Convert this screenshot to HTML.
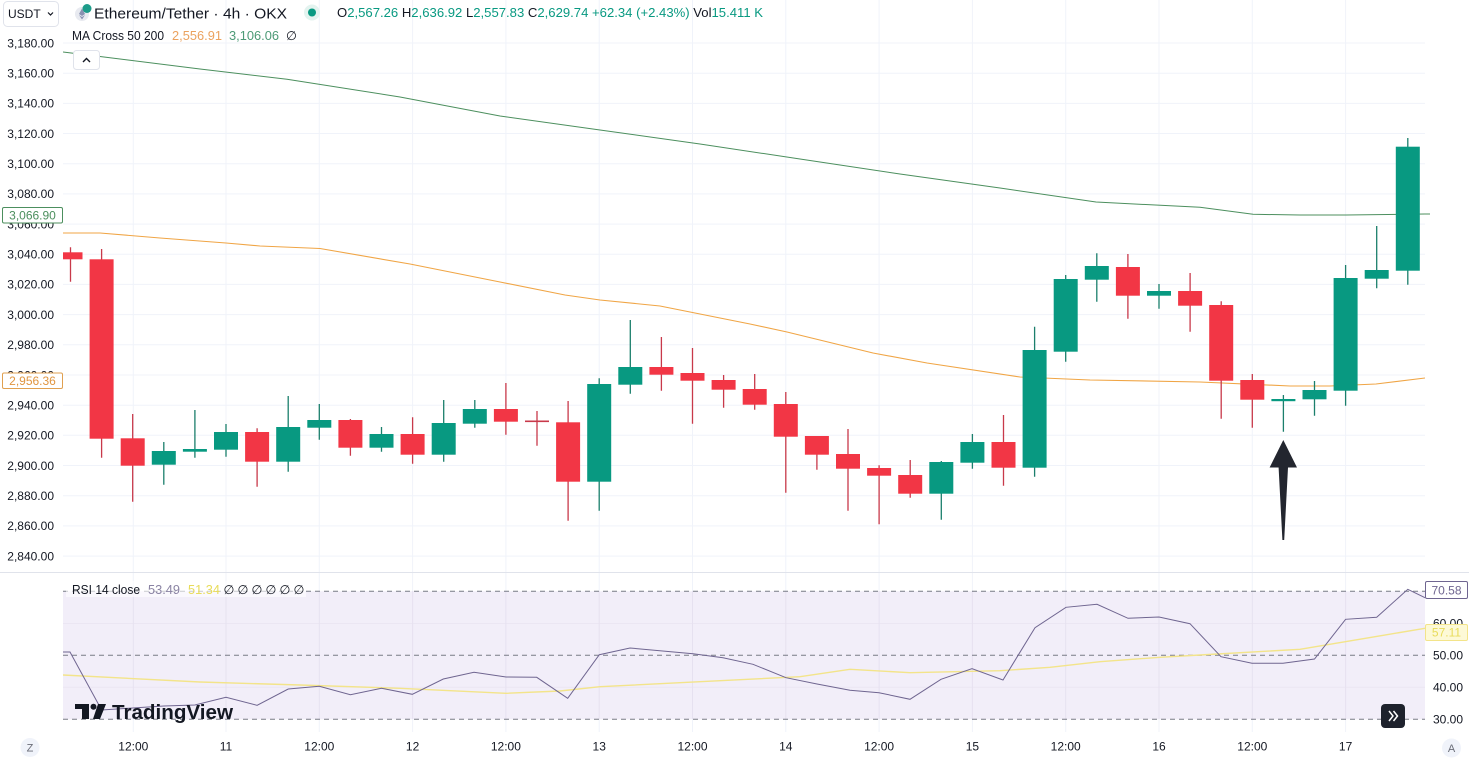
<!DOCTYPE html>
<html><head><meta charset="utf-8">
<style>
html,body{margin:0;padding:0;background:#fff;}
svg{display:block;font-family:"Liberation Sans",sans-serif;}
</style></head>
<body>
<svg width="1469" height="760" viewBox="0 0 1469 760" xmlns="http://www.w3.org/2000/svg">
<defs>
<clipPath id="main"><rect x="63" y="28" width="1362" height="544"/></clipPath>
<clipPath id="rsi"><rect x="63" y="573" width="1362" height="159"/></clipPath>
</defs>
<rect width="1469" height="760" fill="#fff"/>

<!-- vertical grid -->
<g stroke="#f0f3fa" stroke-width="1">
<path d="M133.3 0V732M226 0V732M319.3 0V732M412.6 0V732M505.9 0V732M599.2 0V732M692.5 0V732M785.8 0V732M879.1 0V732M972.4 0V732M1065.7 0V732M1159 0V732M1252.3 0V732M1345.6 0V732"/>
<path d="M63 43H1425M63 73.2H1425M63 103.4H1425M63 133.5H1425M63 163.7H1425M63 193.9H1425M63 224.1H1425M63 254.3H1425M63 284.4H1425M63 314.6H1425M63 344.8H1425M63 375H1425M63 405.2H1425M63 435.3H1425M63 465.5H1425M63 495.7H1425M63 525.9H1425M63 556.1H1425"/>
</g>

<line x1="0" y1="572.5" x2="1469" y2="572.5" stroke="#e0e3eb" stroke-width="1"/>

<!-- MA lines -->
<g clip-path="url(#main)" fill="none">
<path d="M63 52 L100 56.5 L200 69 L287 79.3 L400 97 L500 116 L600 130 L700 144 L800 159 L900 174 L1000 188 L1096 202 L1200 207.3 L1253 214.3 L1300 215 L1346 215 L1425 214" stroke="#4c8f5e" stroke-width="1"/>
<path d="M63 233 L100 233 L160 238 L226 243 L260 246 L320 248.5 L410 264 L500 282 L565 295 L600 300 L660 306 L750 324 L787 332 L873 353 L927 363 L1020 377 L1090 380 L1200 382 L1290 386 L1330 386 L1376 384 L1425 378" stroke="#f0a545" stroke-width="1.1"/>
</g>

<!-- candles -->
<g clip-path="url(#main)">
<path fill="none" stroke="#c8394a" stroke-width="1.3" d="M70.5 247.3V281.7M101.6 249V457.7M132.7 414V501.7M257.1 428.3V486.7M350.4 419V455.7M412.6 417.3V463.7M505.9 383V434.7M537 411V445.7M568.1 401V520.7M661.4 337V390.7M692.5 348V423.7M723.6 375V407.7M754.7 374V409.7M785.8 392V492.7M816.9 436V469.7M848 429V510.7M879.1 465.3V524.3M910.2 460V497.7M1003.5 415V485.7M1127.9 254V318.7M1190.1 273V331.7M1221.2 301.3V418.7M1252.3 374V427.7"/>
<g fill="#f23645">
<rect x="58.5" y="252.3" width="24" height="7"/>
<rect x="89.6" y="259.3" width="24" height="179.4"/>
<rect x="120.7" y="438.3" width="24" height="27.4"/>
<rect x="245.1" y="432" width="24" height="29.7"/>
<rect x="338.4" y="420" width="24" height="27.7"/>
<rect x="400.6" y="434" width="24" height="20.7"/>
<rect x="493.9" y="409" width="24" height="12.7"/>
<rect x="525" y="420.5" width="24" height="1.6" fill="#c8394a"/>
<rect x="556.1" y="422.3" width="24" height="59.4"/>
<rect x="649.4" y="367" width="24" height="7.7"/>
<rect x="680.5" y="373" width="24" height="7.7"/>
<rect x="711.6" y="380" width="24" height="9.7"/>
<rect x="742.7" y="389" width="24" height="15.7"/>
<rect x="773.8" y="404" width="24" height="32.7"/>
<rect x="804.9" y="436" width="24" height="18.7"/>
<rect x="836" y="454" width="24" height="14.7"/>
<rect x="867.1" y="468" width="24" height="7.7"/>
<rect x="898.2" y="475" width="24" height="18.7"/>
<rect x="991.5" y="442" width="24" height="25.7"/>
<rect x="1115.9" y="267" width="24" height="28.7"/>
<rect x="1178.1" y="291" width="24" height="14.7"/>
<rect x="1209.2" y="305" width="24" height="75.7"/>
<rect x="1240.3" y="380" width="24" height="19.7"/>
</g>
<path fill="none" stroke="#1b7f6c" stroke-width="1.3" d="M163.8 442V484.7M194.9 410V457.7M226 424V456.7M288.2 396V471.7M319.3 404V439.7M381.5 427V451.7M443.7 400V461.7M474.8 400V427.7M599.2 378.3V510.7M630.3 320V393.7M941.3 461V519.7M972.4 434V468.7M1034.6 326.7V476.7M1065.7 275V361.7M1096.8 253.3V301.7M1159 284V308.7M1283.4 395V431.7M1314.5 381V415.7M1345.6 265V405.7M1376.7 226V288.3M1407.8 138V284.7"/>
<g fill="#089981">
<rect x="151.8" y="451" width="24" height="13.7"/>
<rect x="182.9" y="449" width="24" height="2.7"/>
<rect x="214" y="432" width="24" height="17.7"/>
<rect x="276.2" y="427" width="24" height="34.7"/>
<rect x="307.3" y="420" width="24" height="7.7"/>
<rect x="369.5" y="434" width="24" height="13.7"/>
<rect x="431.7" y="423" width="24" height="31.7"/>
<rect x="462.8" y="409" width="24" height="14.7"/>
<rect x="587.2" y="384" width="24" height="97.7"/>
<rect x="618.3" y="367" width="24" height="17.7"/>
<rect x="929.3" y="462" width="24" height="31.7"/>
<rect x="960.4" y="442" width="24" height="20.7"/>
<rect x="1022.6" y="350" width="24" height="117.7"/>
<rect x="1053.7" y="279" width="24" height="72.7"/>
<rect x="1084.8" y="266" width="24" height="13.7"/>
<rect x="1147" y="291" width="24" height="4.7"/>
<rect x="1271.4" y="399" width="24" height="2.2"/>
<rect x="1302.5" y="390" width="24" height="9.3"/>
<rect x="1333.6" y="278" width="24" height="112.7"/>
<rect x="1364.7" y="270" width="24" height="8.7"/>
<rect x="1395.8" y="146.7" width="24" height="124"/>
</g>
</g>
<line x1="1425" y1="214" x2="1430" y2="214" stroke="#4c8f5e" stroke-width="1"/>

<!-- arrow -->
<polygon points="1283.3,440 1297,467.5 1288,467.5 1284.2,540 1282.4,540 1278.6,467.5 1269.6,467.5" fill="#23262f"/>

<!-- price axis labels -->
<g font-size="12" fill="#131722" text-anchor="end">
<text x="54" y="47.3">3,180.00</text>
<text x="54" y="77.5">3,160.00</text>
<text x="54" y="107.7">3,140.00</text>
<text x="54" y="137.8">3,120.00</text>
<text x="54" y="168">3,100.00</text>
<text x="54" y="198.2">3,080.00</text>
<text x="54" y="228.4">3,060.00</text>
<text x="54" y="258.6">3,040.00</text>
<text x="54" y="288.7">3,020.00</text>
<text x="54" y="318.9">3,000.00</text>
<text x="54" y="349.1">2,980.00</text>
<text x="54" y="379.3">2,960.00</text>
<text x="54" y="409.5">2,940.00</text>
<text x="54" y="439.6">2,920.00</text>
<text x="54" y="469.8">2,900.00</text>
<text x="54" y="500">2,880.00</text>
<text x="54" y="530.2">2,860.00</text>
<text x="54" y="560.4">2,840.00</text>
</g>
<rect x="2.5" y="207.5" width="60" height="15.5" rx="1.5" fill="#fff" stroke="#4c8f5e" stroke-width="1"/>
<text x="32.5" y="219.5" font-size="12" fill="#4c8f5e" text-anchor="middle">3,066.90</text>
<rect x="2.5" y="373" width="60" height="15.5" rx="1.5" fill="#fff" stroke="#e0a050" stroke-width="1"/>
<text x="32.5" y="385" font-size="12" fill="#e09540" text-anchor="middle">2,956.36</text>

<!-- header -->
<rect x="3.5" y="1.5" width="55" height="25" rx="4" fill="#fff" stroke="#e0e3eb"/>
<text x="8" y="18" font-size="12" fill="#131722">USDT</text>
<path d="M48 12.5 L50.5 15 L53 12.5" fill="none" stroke="#131722" stroke-width="1.2"/>
<circle cx="82" cy="14" r="7" fill="#e8eaf0"/>
<path d="M82 8.5 L85 14 L82 16 L79 14 Z M79 15 L82 19.5 L85 15 L82 17 Z" fill="#8a92b2"/>
<circle cx="87" cy="8.5" r="4.5" fill="#1d9c8a"/>
<text x="94" y="18.5" font-size="15" fill="#131722" textLength="193" lengthAdjust="spacingAndGlyphs">Ethereum/Tether · 4h · OKX</text>
<circle cx="312" cy="12.5" r="8" fill="#e3f3ef"/>
<circle cx="312" cy="12.5" r="4" fill="#089981"/>
<text x="337" y="17" font-size="13" fill="#089981" textLength="426" lengthAdjust="spacingAndGlyphs"><tspan fill="#131722">O</tspan>2,567.26 <tspan fill="#131722">H</tspan>2,636.92 <tspan fill="#131722">L</tspan>2,557.83 <tspan fill="#131722">C</tspan>2,629.74 +62.34 (+2.43%) <tspan fill="#131722">Vol</tspan>15.411 K</text>

<text x="72" y="40" font-size="12.5" fill="#131722" textLength="92" lengthAdjust="spacingAndGlyphs">MA Cross 50 200</text>
<text x="172" y="40" font-size="12.5" fill="#eba25e" textLength="50" lengthAdjust="spacingAndGlyphs">2,556.91</text>
<text x="229" y="40" font-size="12.5" fill="#4c9a76" textLength="50" lengthAdjust="spacingAndGlyphs">3,106.06</text>
<text x="286" y="40" font-size="12.5" fill="#131722">∅</text>
<rect x="73.5" y="50.5" width="26" height="19" rx="3" fill="#fff" stroke="#e0e3eb"/>
<path d="M83 62 L86.5 58.5 L90 62" fill="none" stroke="#131722" stroke-width="1.4"/>

<!-- RSI pane -->
<rect x="63" y="591.3" width="1362" height="128" fill="#f2eef9"/>
<g stroke="#ebe6f3" stroke-width="1"><path d="M63 623.5H1425M63 687.3H1425"/></g>
<g stroke="#e6e1f0" stroke-width="1"><path d="M133.3 591V719M226 591V719M319.3 591V719M412.6 591V719M505.9 591V719M599.2 591V719M692.5 591V719M785.8 591V719M879.1 591V719M972.4 591V719M1065.7 591V719M1159 591V719M1252.3 591V719M1345.6 591V719"/></g>
<g stroke="#787b86" stroke-width="1" stroke-dasharray="5,4">
<line x1="63" y1="591.3" x2="1425" y2="591.3"/>
<line x1="63" y1="655.3" x2="1425" y2="655.3"/>
<line x1="63" y1="719.3" x2="1425" y2="719.3"/>
</g>
<g clip-path="url(#rsi)" fill="none">
<path d="M63 675 L200 682 L300 685 L400 688.3 L506 693.3 L560 691 L600 686.7 L700 681.7 L800 676.7 L850 669.3 L910 672.7 L1000 670.7 L1050 667.3 L1100 661.7 L1160 657.3 L1200 655 L1300 649.3 L1425 628.3" stroke="#f3e48a" stroke-width="1.4"/>
<path d="M63 652 L70 652 L101.6 710 L132.7 708 L163.8 706 L194.9 705 L226 697.3 L257.1 705.3 L288.2 689 L319.3 686.3 L350.4 694.7 L381.5 688.3 L412.3 694.3 L443.3 679 L474 672.3 L506 677 L536.7 677.3 L567.7 698.3 L599.3 654.7 L630 648 L693 653.7 L723 657.7 L753 664.3 L786 677.7 L817 684 L850 690.3 L879 692.7 L910 699.3 L941 679.3 L972 668.7 L1003 680 L1035 627.7 L1066 607.3 L1097 604.3 L1128 618.3 L1159 617 L1190 623.7 L1221 656.7 L1252 663.3 L1283 663.3 L1314.5 659 L1345.6 619.3 L1376.7 617.3 L1407.8 589.3 L1425 597.7" stroke="#6f6590" stroke-width="1"/>
</g>

<!-- RSI legend -->
<rect x="66" y="581" width="240" height="16" fill="#fff" fill-opacity="0.6"/>
<text x="72" y="594" font-size="12.5" fill="#131722" textLength="68" lengthAdjust="spacingAndGlyphs">RSI 14 close</text>
<text x="148" y="594" font-size="12.5" fill="#8a83a3" textLength="32" lengthAdjust="spacingAndGlyphs">53.49</text>
<text x="188" y="594" font-size="12.5" fill="#e8dc5a" textLength="32" lengthAdjust="spacingAndGlyphs">51.34</text>
<g font-size="12.5" fill="#131722" text-anchor="middle">
<text x="229" y="594">∅</text>
<text x="243" y="594">∅</text>
<text x="257" y="594">∅</text>
<text x="271" y="594">∅</text>
<text x="285" y="594">∅</text>
<text x="299" y="594">∅</text>
</g>

<!-- RSI axis -->
<g font-size="12" fill="#131722" text-anchor="end">
<text x="1463" y="627.5">60.00</text>
<text x="1463" y="659.5">50.00</text>
<text x="1463" y="691.5">40.00</text>
<text x="1463" y="723.5">30.00</text>
</g>
<rect x="1425.5" y="581.5" width="42" height="17" rx="1.5" fill="#fff" stroke="#6f6590"/>
<text x="1446.5" y="594.5" font-size="12" fill="#6f6590" text-anchor="middle">70.58</text>
<rect x="1425.5" y="624.5" width="42" height="16" rx="1.5" fill="#fdf9d6" stroke="#f3e48a"/>
<text x="1446.5" y="636.5" font-size="12" fill="#e8dc5a" text-anchor="middle">57.11</text>

<!-- TradingView logo -->
<g fill="#131722">
<rect x="75" y="704" width="14" height="5"/>
<rect x="82" y="704" width="7" height="15"/>
<circle cx="93.5" cy="706.8" r="3"/>
<polygon points="98,704 106,704 100,719 93,719"/>
</g>
<text x="112" y="719" font-size="20" font-weight="bold" fill="#131722" textLength="121" lengthAdjust="spacingAndGlyphs">TradingView</text>

<!-- scroll button -->
<rect x="1381" y="704" width="24" height="24" rx="4" fill="#1e222d"/>
<path d="M1389 711 L1393 716 L1389 721 M1393.5 711 L1397.5 716 L1393.5 721" fill="none" stroke="#fff" stroke-width="1.5"/>

<!-- time axis -->
<g font-size="12" fill="#131722" text-anchor="middle">
<text x="133.3" y="750.5">12:00</text>
<text x="226" y="750.5">11</text>
<text x="319.3" y="750.5">12:00</text>
<text x="412.6" y="750.5">12</text>
<text x="505.9" y="750.5">12:00</text>
<text x="599.2" y="750.5">13</text>
<text x="692.5" y="750.5">12:00</text>
<text x="785.8" y="750.5">14</text>
<text x="879.1" y="750.5">12:00</text>
<text x="972.4" y="750.5">15</text>
<text x="1065.7" y="750.5">12:00</text>
<text x="1159" y="750.5">16</text>
<text x="1252.3" y="750.5">12:00</text>
<text x="1345.6" y="750.5">17</text>
</g>
<circle cx="30" cy="747.5" r="9.5" fill="#f0f3fa"/>
<text x="30" y="751.5" font-size="11" fill="#6a6d78" text-anchor="middle">Z</text>
<circle cx="1451.5" cy="748" r="9.5" fill="#f0f3fa"/>
<text x="1451.5" y="752" font-size="11" fill="#6a6d78" text-anchor="middle">A</text>
</svg>
</body></html>
